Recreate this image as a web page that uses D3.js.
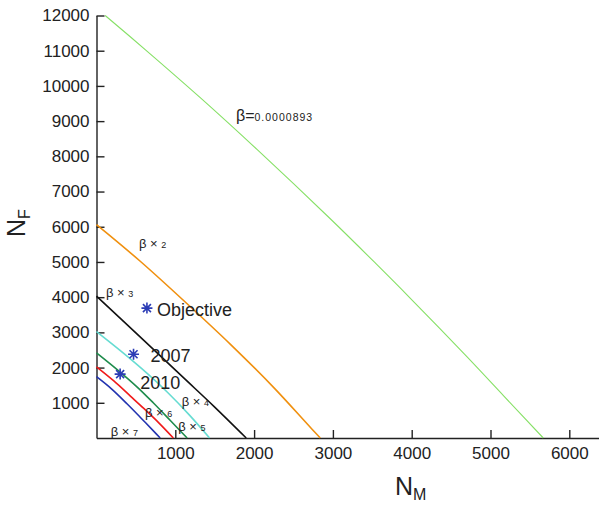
<!DOCTYPE html>
<html>
<head>
  <meta charset="utf-8">
  <title>N_F vs N_M</title>
  <script src="https://d3js.org/d3.v7.min.js"></script>
  <style>
    body { margin: 0; background: #fff; }
    svg { display: block; font-family: "Liberation Sans", Arial, sans-serif; }
    .axis path, .axis line { stroke: #222; stroke-width: 1.4; }
    .axis text { font-size: 17px; fill: #222; }
    .note { font-size: 18px; fill: #222; }
    .blab { font-size: 13px; fill: #222; }
  </style>
</head>
<body>
<div id="chart"></div>
<script>
// curves: [N_M, N_F]
var beta1 = [[110,12000],[640,10990],[1320,9660],[2040,8190],[2970,6220],[3540,4965],[3980,3975],[4700,2310],[5170,1190],[5670,0]];
var beta2 = [[0,6060],[555,5020],[1190,3730],[1700,2660],[2250,1430],[2690,360],[2840,0]];
var beta3 = [[0,4030],[550,2880],[1100,1720],[1490,900],[1900,0]];
var beta4 = [[0,3020],[330,2430],[650,1820],[900,1300],[1180,650],[1435,0]];
var beta5 = [[0,2420],[270,1930],[520,1440],[720,1000],[940,490],[1150,0]];
var beta6 = [[0,2020],[220,1620],[430,1190],[600,840],[800,410],[975,0]];
var beta7 = [[0,1740],[190,1395],[390,965],[570,555],[740,160],[808,0]];
var curveColors = ["#86e066", "#f0900f", "#111111", "#66dcd2", "#1e8c4c", "#f01a1a", "#2233b0"];

// curve labels: main text, small digit, anchor [N_M, N_F]
var curveLabelText = ["β=", "β × ", "β × ", "β × ", "β × ", "β × ", "β × "];
var curveLabelSmall = ["0.0000893", "2", "3", "4", "5", "6", "7"];
var curveLabelAt = [[1770,9000],[539,5384],[120,3995],[1081,907],[1038,198],[615,595],[180,57]];

// starred points
var pointNames = ["Objective", "2007", "2010"];
var pointNM = [640, 470, 300];
var pointNF = [3690, 2380, 1815];

var xTicks = [1000, 2000, 3000, 4000, 5000, 6000];
var yTicks = [1000, 2000, 3000, 4000, 5000, 6000, 7000, 8000, 9000, 10000, 11000, 12000];

var W = 599, H = 506;
var svg = d3.select("#chart").append("svg").attr("width", W).attr("height", H);

var x = d3.scaleLinear().domain([0, 6500]).range([96.5, 608.7]);
var y = d3.scaleLinear().domain([0, 12000]).range([438, 15.5]);

// axes, ticks pointing inwards like matlab
svg.append("g").attr("class", "axis")
  .attr("transform", "translate(0," + y(0) + ")")
  .call(d3.axisBottom(x).tickValues(xTicks).tickSize(-8).tickSizeOuter(0).tickPadding(9).tickFormat(d3.format("d")));

svg.append("g").attr("class", "axis")
  .attr("transform", "translate(" + x(0) + ",0)")
  .call(d3.axisLeft(y).tickValues(yTicks).tickSize(-8).tickSizeOuter(0).tickPadding(7).tickFormat(d3.format("d")));

// curves
var line = d3.line()
  .x(function(d) { return x(d[0]); })
  .y(function(d) { return y(d[1]); })
  .curve(d3.curveCatmullRom.alpha(0.5));

var curves = [beta1, beta2, beta3, beta4, beta5, beta6, beta7];
svg.selectAll(".curve")
  .data(curves)
  .enter()
  .append("path")
  .attr("class", "curve")
  .attr("d", line)
  .attr("fill", "none")
  .attr("stroke", function(d, i) { return curveColors[i]; })
  .attr("stroke-width", function(d, i) { return i == 0 ? 1.1 : 1.6; });

// curve labels
var labs = svg.selectAll(".blab")
  .data(curveLabelText)
  .enter()
  .append("text")
  .attr("class", "blab")
  .attr("x", function(d, i) { return x(curveLabelAt[i][0]); })
  .attr("y", function(d, i) { return y(curveLabelAt[i][1]); });
labs.append("tspan")
  .style("font-size", function(d, i) { return i == 0 ? "16px" : "13px"; })
  .text(function(d) { return d; });
labs.append("tspan")
  .style("font-size", function(d, i) { return i == 0 ? "10.5px" : "9px"; })
  .style("letter-spacing", function(d, i) { return i == 0 ? "1px" : "0px"; })
  .text(function(d, i) { return curveLabelSmall[i]; });

// asterisk markers
var r = 5.5, a = 4;
var star = "M" + (-r) + ",0L" + r + ",0M0," + (-r) + "L0," + r +
  "M" + (-a) + "," + (-a) + "L" + a + "," + a + "M" + (-a) + "," + a + "L" + a + "," + (-a);

svg.selectAll(".star")
  .data(pointNames)
  .enter()
  .append("path")
  .attr("class", "star")
  .attr("transform", function(d, i) { return "translate(" + x(pointNM[i]) + "," + y(pointNF[i]) + ")"; })
  .attr("d", star)
  .attr("fill", "none")
  .attr("stroke", "#2b3cb5")
  .attr("stroke-width", 1.6);

var noteDx = [10, 17, 20], noteDy = [8, 8, 15];
svg.selectAll(".note")
  .data(pointNames)
  .enter()
  .append("text")
  .attr("class", "note")
  .attr("x", function(d, i) { return x(pointNM[i]) + noteDx[i]; })
  .attr("y", function(d, i) { return y(pointNF[i]) + noteDy[i]; })
  .text(function(d) { return d; });

// axis titles
var xt = svg.append("text")
  .attr("x", 395).attr("y", 495)
  .style("font-size", "25px").style("fill", "#222");
xt.append("tspan").text("N");
xt.append("tspan").attr("dy", 5).style("font-size", "16px").text("M");

var yt = svg.append("text")
  .attr("transform", "translate(25,237) rotate(-90)")
  .style("font-size", "25px").style("fill", "#222");
yt.append("tspan").text("N");
yt.append("tspan").attr("dy", 5).style("font-size", "16px").text("F");
</script>
</body>
</html>
